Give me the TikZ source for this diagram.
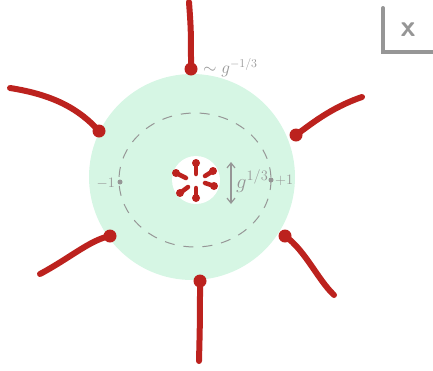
\documentclass[tikz,border=0pt]{standalone}
\usetikzlibrary{arrows.meta}
\definecolor{mint}{RGB}{214,246,228}
\definecolor{strand}{RGB}{188,34,30}
\definecolor{pencil}{RGB}{150,150,150}
\tikzset{
  strandline/.style={draw=strand,line width=6pt,line cap=round},
  enddot/.style={circle,fill=strand,inner sep=0pt,minimum size=13pt},
  smalldot/.style={circle,fill=strand,inner sep=0pt,minimum size=8pt},
  stem/.style={draw=strand,line width=4.5pt,line cap=round},
  grayline/.style={draw=pencil,line width=1.2pt},
  graylabel/.style={text=pencil,inner sep=1pt},
  graydot/.style={circle,fill=pencil,inner sep=0pt,minimum size=5pt}
}
\begin{document}
\begin{tikzpicture}[x=1pt,y=-1pt]
\useasboundingbox (0,0) rectangle (433,370);
% disk
\fill[mint] (192,177) circle[radius=103];
\fill[white] (196,180) circle[radius=24];
\draw[pencil,line width=1pt,dash pattern=on 10pt off 9pt] (195,180) ellipse[x radius=76,y radius=67];
% outer strands
\node[enddot] (d1) at (191,69) {};
\node[enddot] (d2) at (99,131) {};
\node[enddot] (d3) at (296,135) {};
\node[enddot] (d4) at (110,236) {};
\node[enddot] (d5) at (285,236) {};
\node[enddot] (d6) at (200,281) {};
\coordinate (e1) at (189,2);
\coordinate (e2) at (10,88);
\coordinate (e3) at (362,97);
\coordinate (e4) at (40,274);
\coordinate (e5) at (334,295);
\coordinate (e6) at (199,361);
\draw[strandline] (e1) .. controls (191,30) .. (d1.center);
\draw[strandline] (e2) .. controls (55,95) and (80,110) .. (d2.center);
\draw[strandline] (e3) .. controls (330,108) and (310,125) .. (d3.center);
\draw[strandline] (e4) .. controls (70,258) and (90,240) .. (d4.center);
\draw[strandline] (e5) .. controls (318,280) and (305,250) .. (d5.center);
\draw[strandline] (e6) .. controls (200,320) .. (d6.center);
% inner star
\node[smalldot] (s1) at (196,163) {};
\node[smalldot] (s2) at (196,198) {};
\node[smalldot] (s3) at (176,173) {};
\node[smalldot] (s4) at (213,171) {};
\node[smalldot] (s5) at (180,193) {};
\node[smalldot] (s6) at (214,186) {};
\coordinate (t1) at (196,174);
\coordinate (t2) at (196,188);
\coordinate (t3) at (186,178);
\coordinate (t4) at (205,176);
\coordinate (t5) at (188,187);
\coordinate (t6) at (205,183);
\foreach \i in {1,...,6} \draw[stem] (s\i.center) -- (t\i);
% arrow and labels
\coordinate (a1) at (231,162);
\coordinate (a2) at (231,204);
\draw[grayline,{Straight Barb[length=5pt,width=8pt]}-{Straight Barb[length=5pt,width=8pt]}] (a1) -- (a2);
\node[graylabel,anchor=west,font=\fontsize{20}{22}\selectfont] (gl) at (235,181) {$g^{1/3}$};
\node[graydot] (p1) at (271,180) {};
\node[graylabel,anchor=west,font=\fontsize{14}{16}\selectfont] (pl) at (274,180) {$+1$};
\node[graydot] (m1) at (120,182) {};
\node[graylabel,anchor=east,font=\fontsize{14}{16}\selectfont] (ml) at (116,183) {$-1$};
\node[graylabel,font=\fontsize{18}{20}\selectfont,anchor=west] (sl) at (202,68) {$\sim g^{-1/3}$};
% top-right symbol
\coordinate (c1) at (383,8);
\coordinate (c2) at (383,52);
\coordinate (c3) at (433,52);
\draw[pencil,line width=4pt,line cap=round] (c1) -- (c2) -- (c3);
\node[text=pencil,font=\fontsize{30}{32}\selectfont\sffamily\bfseries] (xl) at (408,30) {x};
\end{tikzpicture}
\end{document}
